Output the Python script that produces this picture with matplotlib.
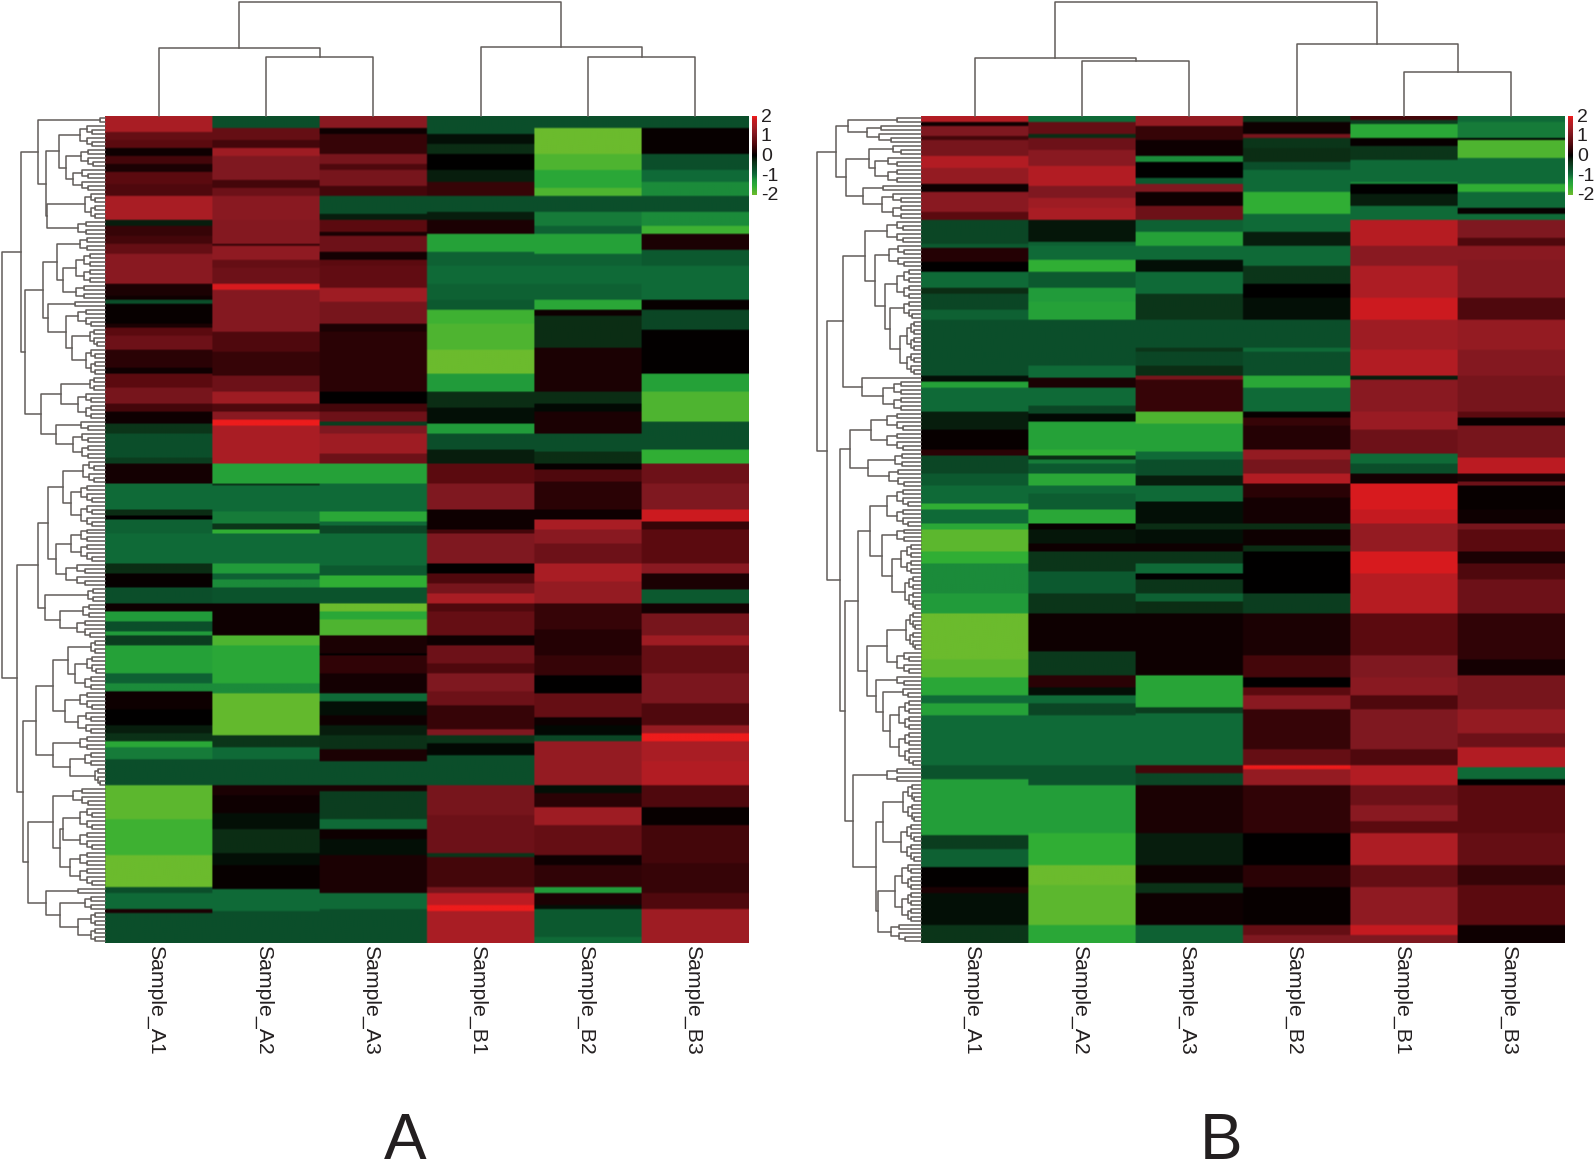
import numpy as np
import matplotlib
matplotlib.use('Agg')
import matplotlib.pyplot as plt
from matplotlib.colors import LinearSegmentedColormap

plt.rcParams['font.family'] = ['Liberation Sans', 'DejaVu Sans']

W, H = 1594, 1163
N_ROWS = 207
INK = '#231f20'
LINE = '#625d5a'

names_a = ['Sample_A1', 'Sample_A2', 'Sample_A3', 'Sample_B1', 'Sample_B2', 'Sample_B3']
names_b = ['Sample_A1', 'Sample_A2', 'Sample_A3', 'Sample_B2', 'Sample_B1', 'Sample_B3']
bar_ticks = [2, 1, 0, -1, -2]

# every column: (row where the band ends, z-score of the band)
a_a1 = [(4, 1.5), (6, .8), (8, .7), (10, .1), (12, .5), (14, .2), (17, .7), (20, .6), (26, 1.5), (27.5, -.2),
        (30, .4), (32, .5), (34.3, .8), (42.2, 1.2), (45, .2), (46, .1), (47.2, -.7), (52, .05), (53, .2),
        (55, .7), (58.5, .9), (63, .3), (64.3, .1), (68, .7), (71.8, 1.), (74, .5), (76.8, .1), (79.3, -.4),
        (85.6, -.7), (86.8, -.5), (91.8, .15), (98.5, -1.), (100, -.3), (101, 0), (104.7, -.9), (112.2, -1.),
        (114.3, -.3), (118, .05), (122.2, -.7), (124, .1), (126.4, -1.3), (129, -.7), (130, -1.3), (132.7, -.5),
        (139.7, -1.4), (142.2, -.9), (144.2, -1.2), (148.5, .1), (152.7, 0), (154.7, -.2), (156.4, -.35),
        (158, -1.5), (161, -1.1), (167.5, -.7), (176, -1.9), (185.2, -1.7), (193, -2), (194.3, -.7), (198.5, -1.),
        (199.3, .2), (207, -.7)]
a_a2 = [(3, -.7), (6, .8), (8, .5), (10, 1.4), (16, 1.1), (18, .5), (20, .9), (26, 1.2), (32, 1.15), (32.5, .4),
        (36, 1.25), (38, .8), (42, .9), (43.5, 1.9), (54, 1.15), (59, .6), (65, .4), (69, .9), (72, 1.4), (74, .6),
        (76, 1.2), (77.5, 2), (87, 1.5), (92, -1.4), (92.7, -.4), (99, -1.), (102, -1.1), (103.5, -.4), (104.7, -1.6),
        (112.2, -1.), (114.3, -1.3), (116, -.9), (118, -1.2), (122.2, -.75), (130, .1), (132.7, -1.8), (142.2, -1.5),
        (144.3, -1.2), (155, -1.95), (158, -.4), (161, -1.), (167.5, -.7), (170, .2), (174.3, .1), (178.5, -.1),
        (184.7, -.3), (187.7, -.1), (193.5, .05), (199, -1.), (207, -.7)]
a_a3 = [(3, 1.2), (4.5, .1), (9.3, .4), (12, 1.), (13.5, .6), (17.7, 1.), (20, .5), (24.3, -.7), (26, -.2), (29, .7),
        (30, .2), (34, .9), (36, .15), (37.7, .7), (43.2, .75), (46.4, 1.4), (52, 1.), (54, .2), (69, .3), (72, 0),
        (74, .5), (76.5, .9), (77.3, -.5), (79.3, 1.1), (84.7, 1.4), (87, .9), (92.2, -1.4), (99, -1.), (101.4, -1.5),
        (102.3, -1.), (104.7, -.6), (112.7, -1.), (115, -.8), (118, -1.6), (122, -.75), (124, -2), (126, -1.5), (130, -1.8),
        (134.3, .2), (135, 0), (139.7, .35), (144.3, .15), (146.4, -1.), (150, -.1), (152.7, .1), (155, -.2), (158.5, -.35),
        (161.4, .2), (167.5, -.7), (169, .2), (176, -.5), (178.5, -1.), (181, .1), (185, -.1), (194.4, .2), (198.5, -1.),
        (207, -.7)]
a_b1 = [(3, -.7), (4.5, -.7), (7, -.1), (9.3, -.3), (13.5, 0), (16.5, -.2), (20, .4), (24, -.7), (26, -.2), (29.5, .2),
        (34, -1.4), (37.7, -.9), (42, -1.), (46, -.9), (48.3, -.8), (52, -1.7), (58.5, -1.8), (64.7, -2), (69, -1.3),
        (73, -.3), (77, -.1), (79.3, -1.3), (83.5, -.7), (87, -.2), (92, .7), (98.5, 1.1), (103.5, .1), (104.7, .5),
        (112.2, 1.1), (114.3, 0), (117, .6), (119.3, 1.), (122, 1.5), (124, .6), (130, .8), (132.3, .1), (137, .9),
        (139.3, .6), (144, 1.1), (147.7, .9), (153.5, .4), (155, 1.1), (157, -.4), (160, -.05), (167.5, -.7), (175.2, 1.),
        (184.3, .9), (185.6, -.4), (193, .5), (194.3, 1.), (197.7, 1.7), (199, 2), (207, 1.5)]
a_b2 = [(3, -.7), (9.3, -2), (13.5, -1.8), (18, -1.5), (20, -1.8), (24, -.7), (27.3, -1.1), (29.5, -.9), (34.3, -1.4),
        (37.7, -.9), (42, -1.), (46, -.9), (48.3, -1.5), (50, .1), (58, -.3), (69, .2), (72, -.3), (74, -.05), (79.3, .2),
        (84, -.7), (87, -.3), (88.5, .05), (91.5, .6), (98.5, .3), (101, .1), (103.5, 1.5), (107.2, 1.2), (112.2, .9),
        (116.4, 1.5), (122, 1.3), (128.5, .4), (135, .25), (140, .4), (144.3, 0), (150.6, .8), (152.7, .1), (155, -.05),
        (156.4, -.6), (167.5, 1.3), (169.3, -.1), (173, .3), (177.7, 1.4), (185.2, .8), (187.7, .1), (193, .35), (194.3, -1.3),
        (197.3, .2), (198.5, -.1), (205.5, -.8), (207, -1.)]
a_b3 = [(3, -.7), (9.3, .05), (13.5, -.7), (16.5, -1.), (20, -1.2), (24, -.7), (27.3, -1.2), (29.5, -1.7), (33.5, .2),
        (37.7, -.8), (42, -1.), (46, -1.), (48.3, .05), (53.5, -.6), (64.7, .02), (69, -1.4), (76.5, -1.8), (83.5, -.7),
        (87, -1.6), (92, .9), (98.5, 1.1), (101.4, 1.85), (103.5, .4), (112.2, .7), (114.3, 1.2), (118.5, .2), (122, -.8),
        (124.7, .15), (130, 1.), (132.7, 1.4), (139.7, .8), (146.9, 1.05), (152.7, .6), (154.7, 1.3), (156.6, 2.3), (161.4, 1.5),
        (167.5, 1.6), (173, .6), (177.7, .05), (186.8, .5), (194.3, .4), (198.5, .6), (207, 1.4)]

b_a1 = [(1.5, 1.6), (2.7, .1), (5, 1.1), (6, .5), (9.8, 1.), (13, 1.6), (17.2, 1.3), (19, .1), (24, 1.2), (26, .7), (32, -.6),
        (33, -.8), (36.4, .25), (39, 0), (43, -1.), (44.7, -.3), (48.3, -.6), (51, -.9), (65, -.7), (66.4, -.1), (68, -1.4),
        (74, -1.), (78.5, -.2), (83.5, .05), (85, .3), (89.3, -.6), (92.7, -.8), (96.8, -1.), (98.5, -1.6), (102, -1.), (103.5, -1.5),
        (109, -1.9), (112.2, -1.6), (119.3, -1.2), (124.7, -1.3), (136, -2), (140.6, -1.9), (145.2, -1.5), (147.2, -1.),
        (150.2, -1.4), (162.7, -1.), (166.2, -.75), (180, -1.35), (183.5, -.5), (188, -.9), (193, .03), (194.7, .2), (202.7, -.1),
        (207, -.4)]
b_a2 = [(1.5, -1.), (4.3, .8), (5.6, -.3), (8.5, .9), (12.7, 1.2), (17.7, 1.6), (20.6, 1.1), (23, 1.4), (26, 1.5), (31.4, -.15),
        (32.7, -.9), (36, -1.), (39, -1.6), (43, -.8), (46.4, -1.3), (51, -1.4), (62.3, -.7), (65.6, -1.), (68, .2), (72.7, -1.),
        (74.3, -.6), (76.4, -.05), (83.5, -1.4), (85, -1.6), (85.8, -.3), (87.2, -1.1), (89.3, -.8), (92.7, -1.5), (94.7, -1.),
        (98.5, -.85), (102, -1.5), (103.5, .05), (107.2, -.15), (109, .1), (114, -.4), (119.3, -.8), (124.7, -.4), (134, .1),
        (140.2, -.45), (143, .3), (145.2, -.1), (147.2, -1.), (150.2, -.6), (162.7, -1.), (167.4, -.75), (179.7, -1.35), (187.7, -1.6),
        (192.7, -2), (202.7, -1.9), (207, -1.5)]
b_a3 = [(2.7, 1.3), (6, .4), (10, .1), (11.4, -1.2), (15.6, 0), (17, -.8), (19, 1.1), (22.7, .1), (26, .9), (29, -.9), (32.7, -1.4),
        (36, -1.), (39, -.1), (42, -1.), (44.7, -1.), (51, -.4), (58, -.7), (59, -.4), (62.7, -.6), (65, -.3), (66, 1.), (74, .4),
        (77, -1.8), (84, -1.4), (86, -1.), (90, -.7), (92.7, -.2), (96.5, -1.), (102, -.1), (103.5, -.3), (107.2, -.1), (109, .1),
        (112.2, -.4), (114.3, -1.), (116, 0), (119.3, -.4), (121.4, -.9), (124.7, -.3), (140.2, .1), (148, -1.45), (149.3, -.5),
        (162.7, -1.), (164.7, .5), (167.4, -.6), (179.7, .2), (187.7, -.2), (192.2, .1), (194.3, -.35), (202.7, .1), (207, -.9)]
b_b2 = [(1.5, -.4), (4.3, .1), (5.6, 1.), (8, -.4), (11.4, -.3), (13.5, -.7), (19, -1.), (24.3, -1.6), (29, -1.), (32.7, -.2),
        (37.7, -1.), (42.2, -.4), (45.6, 0), (51, -.1), (58, -.7), (59, -1.), (65, -.7), (68, -1.5), (74, -1.), (75.6, .05), (77.7, .4),
        (83.5, .25), (86, 1.3), (89.3, 1.), (92.2, 1.6), (95.6, .3), (102, .15), (103.5, -.3), (107.7, .1), (109, -.3), (119.3, 0),
        (124.7, -.5), (135.2, .2), (140.6, .5), (143, 0), (145.2, .7), (148.5, 1.2), (158.5, .4), (162.7, .8), (163.7, 2), (167.4, 1.3),
        (179.7, .35), (187.7, 0), (193, .3), (202.7, .05), (205, .8), (207, 1.1)]
b_b1 = [(1, .5), (2, -.5), (5.6, -1.5), (7.7, .05), (11, -.4), (16.4, -1.), (17.2, -1.2), (19.3, 0), (22.7, -.2), (26, -1.),
        (32.7, 1.65), (37.7, 1.2), (45.6, 1.55), (51, 1.85), (58.5, 1.4), (65, 1.6), (65.8, -.2), (74, 1.2), (78.5, 1.35), (84.3, .9),
        (86.8, -1.), (89.3, -.7), (92.2, .15), (98.5, 1.9), (102, 1.8), (109, 1.3), (114.7, 1.9), (124.7, 1.65), (135.2, .7), (140.6, 1.1),
        (145.2, 1.2), (148.5, .6), (158.5, 1.1), (162.7, .6), (167.4, 1.6), (172.7, .9), (176.4, 1.2), (179.7, .7), (187.7, 1.55),
        (193, .8), (202.7, 1.25), (205, 1.8), (207, 1.1)]
b_b3 = [(1.5, -1.), (5.6, -1.1), (6, 0), (10.6, -1.8), (17.2, -1.), (19, -1.6), (23, -1.), (24.3, .05), (26, -1.), (30.6, 1.1),
        (32.7, .6), (36, 1.2), (45.6, 1.15), (51, .6), (58.5, 1.3), (65, 1.15), (74, 1.), (75.6, .7), (77.7, .05), (85.5, 1.),
        (89.3, 1.7), (91.3, .2), (92.7, .9), (98.5, .05), (102, .1), (103.5, 1.), (109, .7), (112.2, .2), (116, .6), (124.7, .9),
        (136, .35), (140.2, .15), (143.5, 1.), (148.5, 1.), (154.3, 1.3), (158, .9), (162.8, 1.6), (166, -1.), (167.4, 0), (179.7, .7),
        (187.7, .8), (192.7, .4), (202.7, .7), (207, .1)]

# [height, child, child]; an int is a column
col_tree_a = [114, [68, 0, [59, 1, 2]], [69, 3, [59, 4, 5]]]
col_tree_b = [114, [58, 0, [55, 1, 2]], [72, 3, [44, 4, 5]]]

# same, but a tuple is a cluster of rows (height, first row, end row)
row_tree_a = [103,
    [84,
        [67, (5, 0, 2),
            [59,
                [46, (25, 2, 8), [39, (24, 8, 13), (32, 13, 19)]],
                [58, (20, 19, 26), (27, 26, 30)]]],
        [80,
            [62,
                [48, (25, 30, 34), [42, (29, 34, 42), (29, 42, 46)]],
                [57, (30, 46, 48), [39, (27, 48, 53), [33, (15, 53, 58), (19, 58, 65)]]]],
            [64,
                [44, (15, 65, 69), (27, 69, 76)],
                [49, (24, 76, 79), (32, 79, 86)]]]],
    [88,
        [67,
            [57,
                [42, (22, 86, 92), (34, 92, 103)],
                [49, (34, 103, 112), (39, 112, 118)]],
            [60, (17, 118, 122), [45, (22, 122, 126), (28, 126, 131)]]],
        [82,
            [69,
                [52,
                    [37, (14, 131, 135), [30, (18, 135, 140), (20, 140, 144)]],
                    [40, (25, 144, 149), (27, 149, 155)]],
                [52, (25, 155, 159), [35, (20, 159, 163), (10, 163, 168)]]],
            [77,
                [52, (32, 168, 173), [45, [42, (25, 173, 179), (25, 179, 184)], (35, 184, 193)]],
                [59, (27, 193, 195), [45, (20, 195, 199), [27, (14, 199, 203), (14, 203, 207)]]]]]]]

row_tree_b = [104,
    [85,
        [73, (24, 0, 2), [54, (40, 2, 4), (42, 4, 7)]],
        [75,
            [52, (28, 7, 10), (46, 10, 17)],
            [58, (38, 17, 19), (39, 19, 26)]]],
    [94,
        [78,
            [56,
                (34, 26, 32),
                [46,
                    (32, 32, 38),
                    [36, (24, 38, 46), [31, (17, 46, 51), [21, (14, 51, 59), (14, 59, 65)]]]]],
            [59, (14, 65, 66), (38, 66, 74)]],
        [81,
            [71,
                [50, (34, 74, 79), (34, 79, 84)],
                [53, (26, 84, 88), (32, 88, 93)]],
            [76,
                [63,
                    [51, (34, 93, 103), [39, (24, 103, 107), [29, (20, 107, 115), (16, 115, 124)]]],
                    [54,
                        [34, (15, 124, 134), (24, 134, 140)],
                        [45, (24, 140, 143), [38, (18, 143, 146), (31, 146, 163)]]]],
                [68,
                    (34, 163, 167),
                    [45,
                        [38, (18, 167, 177), (20, 177, 187)],
                        [43, (26, 187, 202), (30, 202, 207)]]]]]]]


def expand(runs):
    # two samples per row, so a band can end half way
    vals, start = [], 0
    for end, v in runs:
        stop = int(round(end * 2))
        vals.extend([v] * (stop - start))
        start = stop
    return vals


def twigs(h, s, e):
    # the finest twigs can't be read off the picture, so clusters just split in half
    if e - s == 1:
        return s
    m = (s + e) // 2
    return [h, twigs(h * .72, s, m), twigs(h * .72, m, e)]


def draw_tree(ax, node, horiz):
    if isinstance(node, tuple):
        node = twigs(*node)
    if isinstance(node, int):
        return node + .5, 0
    h, left, right = node
    p1, h1 = draw_tree(ax, left, horiz)
    p2, h2 = draw_tree(ax, right, horiz)
    xs, ys = [p1, p1, p2, p2], [h1, h, h, h2]
    if horiz:
        xs, ys = ys, xs
    ax.plot(xs, ys, color=LINE, lw=1.1, solid_joinstyle='round')
    return (p1 + p2) / 2, h


def px_axes(fig, x, y, w, h):
    return fig.add_axes([x / W, 1 - (y + h) / H, w / W, h / H])


cmap = LinearSegmentedColormap.from_list('greenred', [
    (0, '#6bbb2d'), (.1, '#2fae35'), (.175, '#219b3b'), (.25, '#106b38'), (.325, '#0b4f2b'), (.425, '#0b2d14'),
    (.5, '#000000'), (.575, '#2a0205'), (.675, '#5c0b10'), (.775, '#7f1820'), (.875, '#a81e25'), (.96, '#c81a20'),
    (1, '#ed1c1c')])

fig = plt.figure(figsize=(W / 100, H / 100), dpi=100)


def panel(left, columns, names, col_tree, row_tree, tree_w, letter, letter_x):
    heat_w, heat_h, top = 644, 827, 116
    mat = np.array([expand(c) for c in columns]).T
    ax = px_axes(fig, left, top, heat_w, heat_h)
    ax.imshow(np.repeat(mat, 60, axis=1), cmap=cmap, vmin=-2, vmax=2, aspect='auto',
              interpolation='bilinear', extent=[0, 6, N_ROWS, 0])
    ax.axis('off')

    top_ax = px_axes(fig, left, 0, heat_w, top)
    top_ax.set_xlim(0, 6)
    top_ax.set_ylim(0, top)
    draw_tree(top_ax, col_tree, False)
    top_ax.axis('off')

    side = px_axes(fig, left - tree_w, top, tree_w, heat_h)
    side.set_xlim(tree_w, 0)
    side.set_ylim(N_ROWS, 0)
    draw_tree(side, row_tree, True)
    side.axis('off')
    for a in (top_ax, side):
        a.patch.set_alpha(0)
        for line in a.lines:
            line.set_clip_on(False)

    for i, name in enumerate(names):
        fig.text((left + 51 + i * heat_w / 6) / W, 1 - 945 / H, name, rotation=-90, ha='center', va='top',
                 fontsize=15.3, color=INK)

    # colour key
    bar = px_axes(fig, left + 647, top, 5, 79)
    bar.imshow(np.linspace(2, -2, 80)[:, None], cmap=cmap, vmin=-2, vmax=2, aspect='auto',
               extent=[0, 1, -2, 2])
    bar.axis('off')
    for t in bar_ticks:
        fig.text((left + 656) / W, 1 - (156.5 - t * 19.7) / H, str(t), ha='left', va='center',
                 fontsize=14, color=INK)

    fig.text(letter_x / W, 1 - 1159 / H, letter, ha='center', va='baseline', fontsize=46, color=INK)


panel(105, [a_a1, a_a2, a_a3, a_b1, a_b2, a_b3], names_a, col_tree_a, row_tree_a, 105, 'A', 405)
panel(921, [b_a1, b_a2, b_a3, b_b2, b_b1, b_b3], names_b, col_tree_b, row_tree_b, 111, 'B', 1221)

fig.savefig('out.png', dpi=100)
